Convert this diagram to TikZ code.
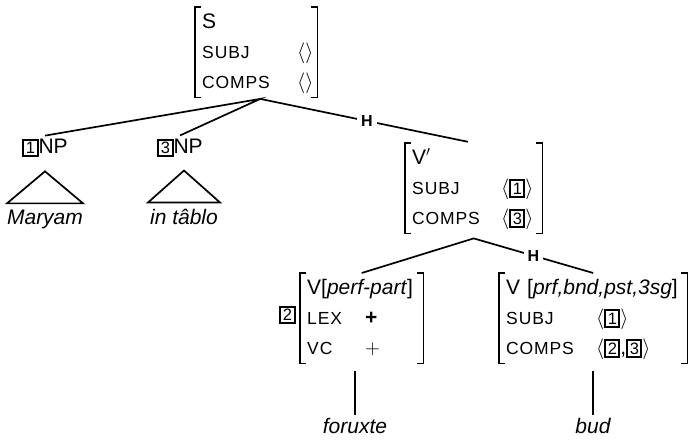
\documentclass[tikz,border=0pt]{standalone}
\usepackage{fontspec}
\setmainfont{Liberation Sans}
\usetikzlibrary{positioning}

% feature names in small capitals, tags as boxed numbers
\newcommand{\feat}[1]{{\fontsize{17.5}{17.5}\selectfont\addfontfeatures{LetterSpace=5}#1}}
\newcommand{\tagnum}[1]{{\setlength{\fboxsep}{1.5pt}\setlength{\fboxrule}{2pt}\fbox{\fontsize{16.5}{16.5}\selectfont#1}}}

\begin{document}
\begin{tikzpicture}[x=1pt, y=-1pt,
        font=\fontsize{21}{25}\selectfont,
        avm/.style={anchor=north west, inner xsep=7pt, inner ysep=0pt, align=left, font=\fontsize{21}{30}\selectfont},
        cat/.style={inner sep=3pt},
        word/.style={anchor=base, inner sep=3pt, font=\fontsize{21}{25}\selectfont\itshape},
        branch/.style={line width=1.7pt},
        bracket/.style={line width=1.7pt, line join=miter},
        head/.style={fill=white, inner xsep=4pt, inner ysep=1pt, font=\fontsize{16}{16}\selectfont\bfseries}
    ]
    \useasboundingbox (0,0) rectangle (690,439);

    % Mother: S
    \node[avm, text width=108pt] (s) at (195,7) {%
        \begin{tabular}{@{}p{95pt}@{}l@{}}
            \multicolumn{2}{@{}l@{}}{S}\\
            \feat{SUBJ} & $\langle\rangle$\\
            \feat{COMPS} & $\langle\rangle$
        \end{tabular}};

    % Non-head daughters
    \node[cat] (np1) at (45,148) {\tagnum{1}NP};
    \node[cat] (np3) at (180,148) {\tagnum{3}NP};
    \node[word] (maryam) at (45,224) {Maryam};
    \node[word] (intablo) at (184,224) {in tâblo};

    % Head daughter: V'
    \node[avm, text width=123pt] (vbar) at (405,143) {%
        \begin{tabular}{@{}p{89pt}@{}l@{}}
            \multicolumn{2}{@{}l@{}}{V$'$}\\
            \feat{SUBJ} & $\langle$\tagnum{1}$\rangle$\\
            \feat{COMPS} & $\langle$\tagnum{3}$\rangle$
        \end{tabular}};

    % Participle
    \node[avm, text width=109pt] (vpart) at (300,273) {%
        \begin{tabular}{@{}p{58pt}@{}l@{}}
            \multicolumn{2}{@{}l@{}}{V[\textit{perf-part}]}\\
            \feat{LEX} & \textbf{+}\\
            \feat{VC} & $+$
        \end{tabular}};
    \node (tag2) at (287.5,315) {\tagnum{2}};

    % Auxiliary
    \node[avm, text width=174pt] (vbud) at (499,273) {%
        \begin{tabular}{@{}p{90pt}@{}l@{}}
            \multicolumn{2}{@{}l@{}}{V [\textit{prf,bnd,pst,3sg}]}\\
            \feat{SUBJ} & $\langle$\tagnum{1}$\rangle$\\
            \feat{COMPS} & $\langle$\tagnum{2},\tagnum{3}$\rangle$
        \end{tabular}};

    \node[word] (foruxte) at (355,433) {foruxte};
    \node[word] (bud) at (593,433) {bud};

    % Brackets round each AVM
    \foreach \n in {s, vbar, vpart, vbud} {
        \draw[bracket] ([xshift=6pt]\n.north west) -| (\n.south west) -- ++(6pt,0);
        \draw[bracket] ([xshift=-6pt]\n.north east) -| (\n.south east) -- ++(-6pt,0);
    }

    % Branches
    \coordinate (sroot) at ([xshift=4pt, yshift=-1.5pt]s.south);
    \coordinate (vroot) at ([yshift=-5pt]vbar.south);
    \draw[branch] (np1.north) -- (sroot) -- (np3.north);
    \draw[branch, shorten >=6pt] (sroot) -- node[head] {H} (vbar.north);
    \draw[branch] (vpart.north) -- (vroot) -- node[head] {H} (vbud.north);

    % Triangles over the NPs
    \draw[branch] ([yshift=3pt]maryam.north) ++(0,-32) -- ++(-38,32) -- ++(76,0) -- cycle;
    \draw[branch] ([yshift=3pt]intablo.north) ++(0,-32) -- ++(-36,32) -- ++(72,0) -- cycle;

    % Words under the verbs
    \draw[branch, shorten >=8pt] (foruxte.north) -- (foruxte.north |- vpart.south);
    \draw[branch, shorten >=8pt] (bud.north) -- (bud.north |- vbud.south);

\end{tikzpicture}
\end{document}
